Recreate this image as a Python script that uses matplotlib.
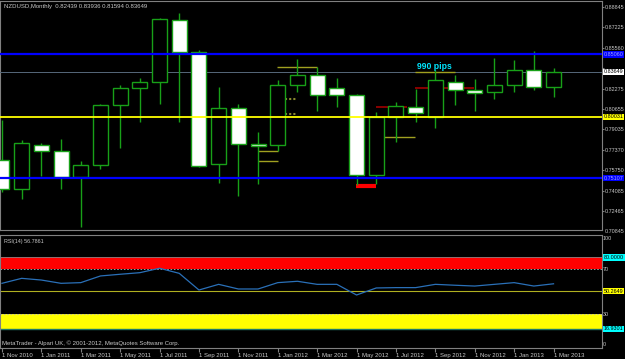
import numpy as np
import matplotlib
matplotlib.use("Agg")
import matplotlib.pyplot as plt
import matplotlib.transforms as mtransforms

# monthly NZDUSD, Nov 2010 .. Mar 2013
opens = [0.76566, 0.74236, 0.77747, 0.77265, 0.75224, 0.76140, 0.80962, 0.82328, 0.82810, 0.87816,
         0.85269, 0.76220, 0.80721, 0.77852, 0.77747, 0.82569, 0.83372, 0.82352, 0.81814, 0.75337,
         0.80046, 0.80849, 0.80046, 0.82834, 0.82191, 0.82031, 0.82569, 0.83822, 0.82439]
highs = [0.79780, 0.78173, 0.77956, 0.78278, 0.76486, 0.81066, 0.82617, 0.83131, 0.87953, 0.88355,
         0.85406, 0.82408, 0.81066, 0.78816, 0.82995, 0.84682, 0.84015, 0.83156, 0.81870, 0.80423,
         0.81227, 0.82247, 0.83798, 0.83372, 0.83099, 0.84739, 0.84578, 0.85325, 0.83936]
lows = [0.73995, 0.73432, 0.75280, 0.74260, 0.71158, 0.75819, 0.77555, 0.79644, 0.81042, 0.79596,
        0.76027, 0.74694, 0.73697, 0.74637, 0.77265, 0.82055, 0.80528, 0.80849, 0.74533, 0.74613,
        0.78037, 0.79644, 0.79113, 0.80986, 0.80528, 0.81492, 0.82055, 0.82191, 0.81594]
closes = [0.74236, 0.77908, 0.77265, 0.75224, 0.76140, 0.80962, 0.82328, 0.82810, 0.87873, 0.85245,
          0.76108, 0.80721, 0.77852, 0.77691, 0.82593, 0.83372, 0.81789, 0.81789, 0.75337, 0.80046,
          0.80881, 0.80319, 0.82971, 0.82191, 0.81926, 0.82569, 0.83822, 0.82432, 0.83649]

rsi = [57.2, 61.6, 60.1, 57.2, 57.8, 63.7, 65.2, 66.6, 70.5, 66.0, 51.3, 56.3, 52.2, 52.2, 57.8,
       59.0, 56.3, 56.3, 46.9, 53.1, 53.4, 53.4, 56.3, 55.5, 54.8, 56.3, 57.8, 54.8, 56.79]

date_labels = ["1 Nov 2010", "1 Jan 2011", "1 Mar 2011", "1 May 2011", "1 Jul 2011", "1 Sep 2011",
               "1 Nov 2011", "1 Jan 2012", "1 Mar 2012", "1 May 2012", "1 Jul 2012", "1 Sep 2012",
               "1 Nov 2012", "1 Jan 2013", "1 Mar 2013"]

price_ticks = [0.88845, 0.87225, 0.85560, 0.83940, 0.82275, 0.80655, 0.79035, 0.77370,
               0.75750, 0.74085, 0.72465]
bottom_tick = 0.70845

# horizontal levels drawn on the chart
blue_levels = [0.85060, 0.75107]
yellow_level = 0.80031

# small indicator segments: (x0, x1, price)
olive_segs = [(13.0, 14.0, 0.77265), (13.0, 14.0, 0.76461), (13.96, 15.99, 0.84064),
              (19.39, 20.96, 0.78390), (20.96, 23.0, 0.83662)]
olive_dashed = [(14.37, 14.97, 0.81444), (14.37, 14.97, 0.80263)]
darkred_segs = [(18.98, 20.55, 0.80849), (20.96, 23.96, 0.82328)]
red_seg = (17.97, 18.98, 0.74477)

rsi_bands = [(70, 80, "#ff0000"), (16.9301, 30, "#ffff00")]
rsi_mid = 50.2649

plt.rcParams["font.family"] = ["Liberation Sans", "DejaVu Sans"]
GREEN = "#18a018"
GREY = "#c8c8c8"
FS = 3.9

fig = plt.figure(figsize=(6.25, 3.59), dpi=100, facecolor="black")
ax = fig.add_axes([0, 1 - 230 / 359, 602 / 625, 229 / 359], facecolor="black")
ax2 = fig.add_axes([0, 1 - 348 / 359, 602 / 625, 113.5 / 359], facecolor="black")

x = np.arange(len(opens))

for a in (ax, ax2):
    for s in a.spines.values():
        s.set_color("#808080")
        s.set_linewidth(0.8)
    a.set_xlim(-0.1, 30.46)
    a.yaxis.tick_right()
    a.tick_params(axis="y", colors="#808080", labelcolor=GREY, labelsize=FS, length=1.5, pad=0.6)

# candles
ax.vlines(x, lows, highs, color=GREEN, lw=1, zorder=4)
for i in range(len(opens)):
    o, c = opens[i], closes[i]
    face = "black" if c >= o else "white"
    h = max(abs(c - o), 0.0006)
    ax.bar(x[i], h, bottom=min(o, c), width=0.76, color=face, edgecolor=GREEN, lw=1, zorder=5)

# levels
for lv in blue_levels:
    ax.axhline(lv, color="#0000ff", lw=1.6, zorder=6)
ax.axhline(yellow_level, color="#ffff00", lw=1.3, zorder=6)
ax.axhline(closes[-1], color="#56687a", lw=0.7, zorder=3)

for x0, x1, p in olive_segs:
    ax.hlines(p, x0, x1, color="#a0a020", lw=1, zorder=3)
for x0, x1, p in olive_dashed:
    ax.hlines(p, x0, x1, color="#8a8a30", lw=1.5, ls=(0, (1, 1)), zorder=3)
for x0, x1, p in darkred_segs:
    ax.hlines(p, x0, x1, color="#a00000", lw=1.2, zorder=3)
ax.hlines(red_seg[2], red_seg[0], red_seg[1], color="#ff0000", lw=3, zorder=3)

ax.text(21.95, 0.8372, "990 pips", color="#00e5ff", fontsize=6.2, fontweight="bold",
        ha="center", va="bottom", zorder=7)

ax.set_ylim(0.70941, 0.89343)
ax.set_yticks(price_ticks)
# the 0.83940 label sits under the current-price tag
ax.set_yticklabels(["" if p == 0.83940 else "%.5f" % p for p in price_ticks])
ax.set_xticks([])

tr = mtransforms.blended_transform_factory(ax.transAxes, ax.transData)
ax.text(1.004, bottom_tick, "%.5f" % bottom_tick, transform=tr, color=GREY, fontsize=FS,
        va="center", ha="left", clip_on=False)


def tag(a, value, text, bg, fg):
    t = mtransforms.blended_transform_factory(a.transAxes, a.transData)
    a.text(1.003, value, text, transform=t, color=fg, fontsize=FS, va="center", ha="left",
           bbox=dict(facecolor=bg, edgecolor="none", pad=0.6), clip_on=False, zorder=10)


for lv in blue_levels:
    tag(ax, lv, "%.5f" % lv, "#0000ff", "#a0a0ff")
tag(ax, yellow_level, "%.5f" % yellow_level, "#ffff00", "black")
tag(ax, closes[-1], "%.5f" % closes[-1], "white", "black")

ax.text(0.006, 0.985, "NZDUSD,Monthly  %.5f %.5f %.5f %.5f" % (opens[-1], highs[-1], lows[-1], closes[-1]),
        transform=ax.transAxes, color=GREY, fontsize=4.3, va="top", ha="left")

# RSI panel
for lo, hi, col in rsi_bands:
    ax2.axhspan(lo, hi, color=col, lw=0, zorder=1)
ax2.axhline(80, color="#808080", lw=0.6, zorder=2)
ax2.axhline(70, color="#b0b0b0", lw=0.6, ls=(0, (2, 2)), zorder=2)
ax2.axhline(30, color="#b0b0b0", lw=0.6, ls=(0, (2, 2)), zorder=2)
ax2.axhline(16.9301, color="#1f7a6a", lw=1.0, zorder=2)
ax2.axhline(rsi_mid, color="#b0b020", lw=0.8, zorder=2)
ax2.plot(x, rsi, color="#2a70b8", lw=0.9, zorder=3)
ax2.set_ylim(0.1, 100.3)
ax2.set_yticks([97, 70, 30, 3.5])
ax2.set_yticklabels(["100", "70", "30", "0"])
ax2.tick_params(axis="y", length=0)

tag(ax2, 80, "80.0000", "#00ffff", "black")
tag(ax2, rsi_mid, "%.4f" % rsi_mid, "#ffff00", "black")
tag(ax2, 16.9301, "16.9301", "#00ffff", "black")

ax2.text(0.006, 0.96, "RSI(14) %.4f" % 56.7861, transform=ax2.transAxes, color=GREY,
         fontsize=FS, va="top", ha="left")
ax2.text(0.004, 0.02, "MetaTrader - Alpari UK, \u00a9 2001-2012, MetaQuotes Software Corp.",
         transform=ax2.transAxes, color=GREY, fontsize=4.3, va="bottom", ha="left")

ax2.set_xticks(x[::2])
ax2.set_xticklabels(date_labels)
ax2.tick_params(axis="x", colors="#808080", labelcolor=GREY, labelsize=4.3, length=3, pad=0.5)
for lab in ax2.get_xticklabels():
    lab.set_ha("left")

fig.savefig("out.png", dpi=100, facecolor="black")
